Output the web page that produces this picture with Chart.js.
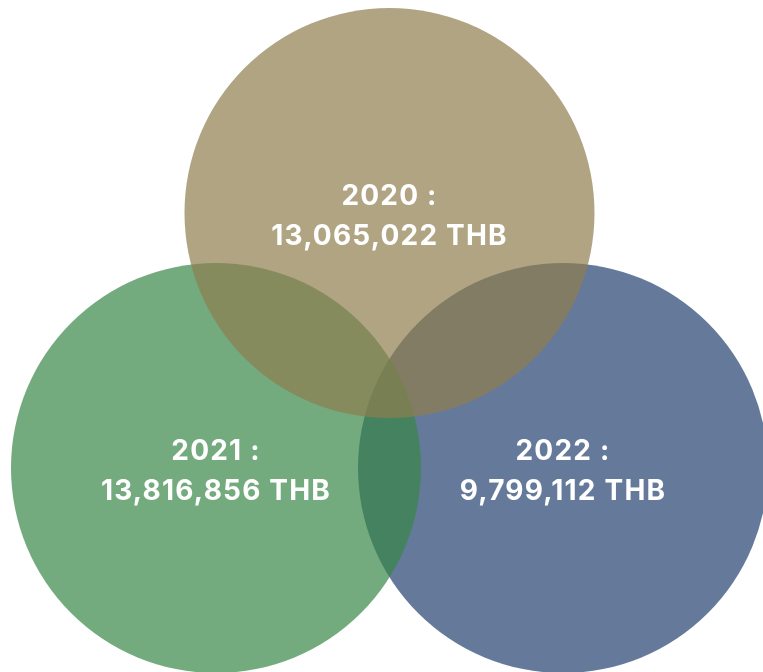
<!DOCTYPE html>
<html>
<head>
<meta charset="utf-8">
<script src="https://cdn.jsdelivr.net/npm/chart.js@4.4.0/dist/chart.umd.min.js"></script>
<style>
  html, body { margin: 0; padding: 0; background: #ffffff; }
  #wrap { width: 763px; height: 672px; }
</style>
</head>
<body>
<div id="wrap"><canvas id="c" width="763" height="672"></canvas></div>
<script>
// ---- data ----
const years = ['2020', '2021', '2022'];
const amounts = [13065022, 13816856, 9799112];
const unit = 'THB';
// Venn layout slots (grid columns / rows, not pixels)
const slotCol = [1, 0, 2];
const slotRow = [1, 0, 0];

const fills = ['rgba(142,126,78,0.7)', 'rgba(56,135,71,0.7)', 'rgba(36,65,112,0.7)'];

const datasets = years.map((y, i) => ({
  label: y,
  data: [{ x: slotCol[i], y: slotRow[i], v: amounts[i] }],
  backgroundColor: fills[i],
  borderWidth: 0,
  pointRadius: 205,
  pointHoverRadius: 205,
  pointBorderWidth: 0,
  clip: false
}));

const labelPlugin = {
  id: 'vennLabels',
  afterDatasetsDraw(chart) {
    const ctx = chart.ctx;
    ctx.save();
    ctx.fillStyle = '#ffffff';
    ctx.textAlign = 'center';
    ctx.textBaseline = 'alphabetic';
    ctx.font = '700 28px Inter, "Open Sans", sans-serif';
    try { ctx.letterSpacing = '1.2px'; } catch (e) {}
    chart.data.datasets.forEach((ds, i) => {
      const pt = chart.getDatasetMeta(i).data[0];
      const v = ds.data[0].v;
      ctx.fillText(ds.label + ' :', pt.x, pt.y - 8);
      ctx.fillText(v.toLocaleString('en-US') + ' ' + unit, pt.x, pt.y + 32);
    });
    ctx.restore();
  }
};

const pxPerCol = 173.5, pxPerRow = 255;
new Chart(document.getElementById('c'), {
  type: 'scatter',
  data: { datasets },
  options: {
    responsive: false,
    animation: false,
    events: [],
    layout: { padding: 0, autoPadding: false },
    plugins: { legend: { display: false }, tooltip: { enabled: false } },
    scales: {
      x: { type: 'linear', display: false, min: -216 / pxPerCol, max: (763 - 216) / pxPerCol },
      y: { type: 'linear', display: false, min: -(672 - 468) / pxPerRow, max: 468 / pxPerRow }
    }
  },
  plugins: [labelPlugin]
});
</script>
</body>
</html>
